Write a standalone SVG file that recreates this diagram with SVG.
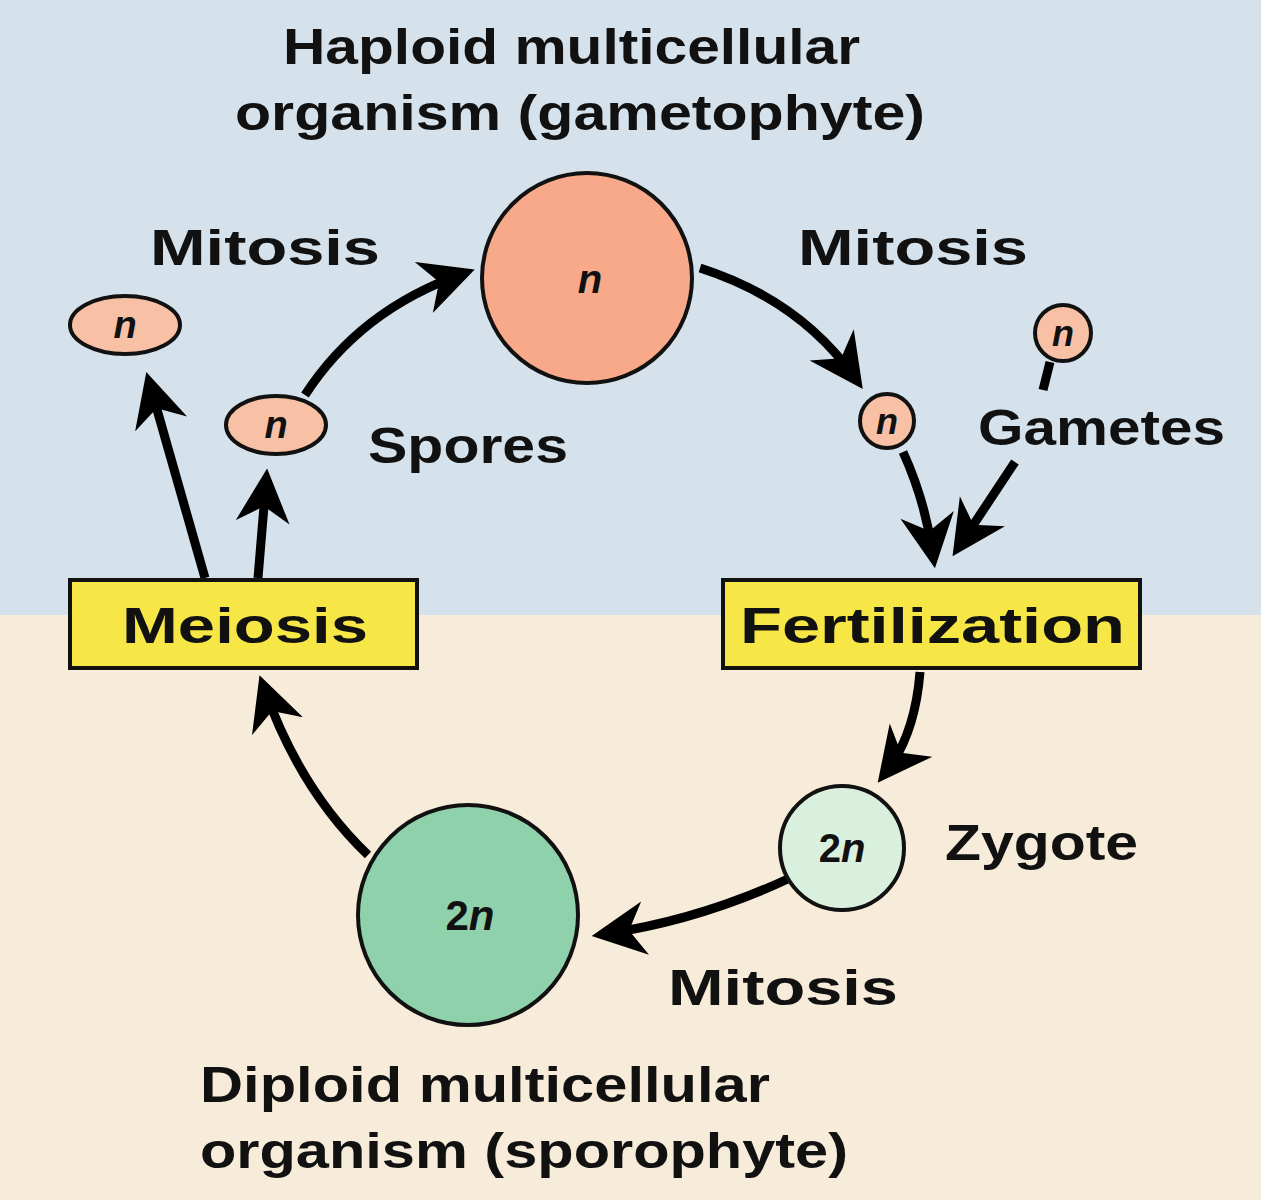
<svg xmlns="http://www.w3.org/2000/svg" width="1261" height="1200" viewBox="0 0 1261 1200">
<defs>
<style>
text{font-family:"Liberation Sans",Arial,sans-serif;font-weight:bold;fill:#111}
.lbl{font-size:50px}
.cell{stroke:#111;stroke-width:4}
.box{fill:#f6e646;stroke:#111;stroke-width:4}
.arr{fill:none;stroke:#000;stroke-width:9;marker-end:url(#ah)}
.in{font-style:italic}
</style>
<marker id="ah" markerWidth="7" markerHeight="7" refX="4.5" refY="3" orient="auto" markerUnits="strokeWidth">
<path d="M0,0 L6,3 L0,6 L1.8,3 Z" fill="#000"/>
</marker>
</defs>
<rect x="0" y="0" width="1261" height="615" fill="#d6e2eb"/>
<rect x="0" y="615" width="1261" height="585" fill="#f7ebd9"/>
<g id="title"><text class="lbl" x="283" y="64" textLength="577" lengthAdjust="spacingAndGlyphs">Haploid multicellular</text><text class="lbl" x="235" y="130" textLength="690" lengthAdjust="spacingAndGlyphs">organism (gametophyte)</text></g>
<g id="connectors">
<path class="arr" d="M205,578 L150,385"/>
<path class="arr" d="M258,578 L266,482"/>
<path class="arr" d="M305,395 Q360,310 462,274"/>
<path class="arr" d="M700,268 Q800,300 855,378"/>
<path class="arr" d="M903,452 Q925,500 933,555"/>
<path class="arr" d="M1015,462 L960,545"/>
<path class="arr" d="M920,672 Q915,735 886,772"/>
<path class="arr" d="M790,878 Q700,920 605,934"/>
<path class="arr" d="M368,855 Q300,790 264,688"/>
<path d="M1050,362 L1043,390" stroke="#000" stroke-width="9"/>
</g>
<g id="gametophyte"><circle class="cell" cx="587" cy="278" r="105" fill="#f8a98a"/><text class="in" x="590" y="293" font-size="40" text-anchor="middle">n</text></g>
<g id="mitosis1"><text class="lbl" x="150" y="265" textLength="230" lengthAdjust="spacingAndGlyphs">Mitosis</text></g>
<g id="mitosis2"><text class="lbl" x="798" y="265" textLength="230" lengthAdjust="spacingAndGlyphs">Mitosis</text></g>
<g id="mitosis3"><text class="lbl" x="668" y="1005" textLength="230" lengthAdjust="spacingAndGlyphs">Mitosis</text></g>
<g id="cellA"><ellipse class="cell" cx="125" cy="325" rx="55" ry="29" fill="#f8c1a5"/><text class="in" x="125" y="338" font-size="38" text-anchor="middle">n</text></g>
<g id="spore"><ellipse class="cell" cx="276" cy="425" rx="50" ry="29" fill="#f8c1a5"/><text class="in" x="276" y="438" font-size="38" text-anchor="middle">n</text><text class="lbl" x="368" y="463" textLength="200" lengthAdjust="spacingAndGlyphs">Spores</text></g>
<g id="gamete1"><circle class="cell" cx="887" cy="421" r="27" fill="#f8c1a5"/><text class="in" x="887" y="434" font-size="36" text-anchor="middle">n</text></g>
<g id="gamete2"><circle class="cell" cx="1063" cy="333" r="28" fill="#f8c1a5"/><text class="in" x="1063" y="346" font-size="36" text-anchor="middle">n</text><text class="lbl" x="978" y="445" textLength="247" lengthAdjust="spacingAndGlyphs">Gametes</text></g>
<g id="meiosis"><rect class="box" x="70" y="580" width="347" height="88"/><text class="lbl" x="122" y="643" textLength="246" lengthAdjust="spacingAndGlyphs">Meiosis</text></g>
<g id="fertilization"><rect class="box" x="723" y="580" width="417" height="88"/><text class="lbl" x="740" y="643" textLength="385" lengthAdjust="spacingAndGlyphs">Fertilization</text></g>
<g id="zygote"><circle class="cell" cx="842" cy="848" r="62" fill="#daf0df"/><text x="842" y="862" font-size="40" text-anchor="middle">2<tspan class="in">n</tspan></text><text class="lbl" x="945" y="860" textLength="193" lengthAdjust="spacingAndGlyphs">Zygote</text></g>
<g id="sporophyte"><circle class="cell" cx="468" cy="915" r="110" fill="#8fd1ab"/><text x="470" y="930" font-size="42" text-anchor="middle">2<tspan class="in">n</tspan></text></g>
<g id="diploid"><text class="lbl" x="200" y="1102" textLength="570" lengthAdjust="spacingAndGlyphs">Diploid multicellular</text><text class="lbl" x="200" y="1168" textLength="648" lengthAdjust="spacingAndGlyphs">organism (sporophyte)</text></g>
</svg>
